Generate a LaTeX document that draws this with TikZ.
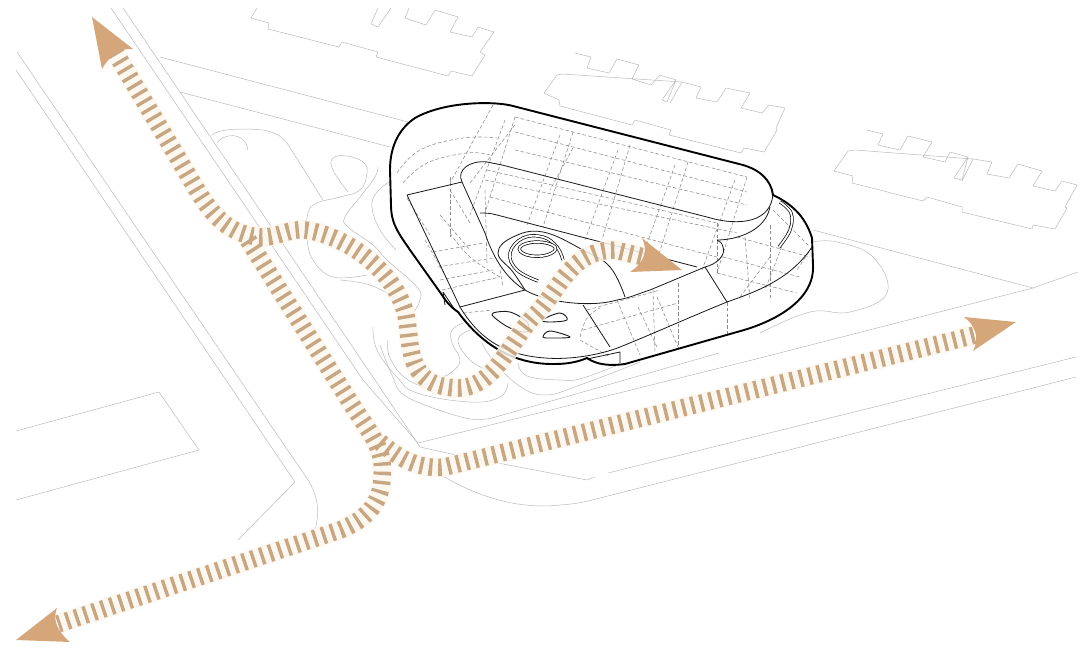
\documentclass[tikz,border=0pt]{standalone}
\usepackage{tikz}
\usetikzlibrary{arrows.meta,calc}
\definecolor{stripe}{HTML}{C6A683}
\definecolor{halo}{HTML}{FCF6EC}
\definecolor{tip}{HTML}{D5A679}

\begin{document}
\begin{tikzpicture}[
  x=1pt, y=-1pt,
  site/.style={draw=black!27, line width=.5pt, line join=round},
  wall/.style={draw=black!90, line width=.8pt, line join=round},
  roof/.style={draw=black, line width=1.9pt, line cap=round, line join=round},
  hidden/.style={draw=black!45, line width=.55pt, dash pattern=on 3.6pt off 2.2pt},
  ring/.style={draw=black, line width=.7pt, double=white, double distance=1.8pt},
  walkhalo/.style={draw=halo, line width=20pt, opacity=.85},
  walkbar/.style={draw=stripe, line width=17.5pt, dash pattern=on 3.4pt off 5.9pt},
  walktip/.style={fill=tip, draw=none}
]
\useasboundingbox (0,0) rectangle (1080,654);

% Roads and plot edges.
\draw[site] (17,52) -- (308,480) .. controls (318,496) and (320,512) .. (315,530);
\draw[site] (16,70) -- (295,482) -- (238,540);
\draw[site] (16,431) -- (159,392) -- (199,450) -- (16,500);
\draw[site] (111,8) -- (363,380) -- (418,443) -- (760,358) -- (1033,288) -- (1078,272);
\draw[site] (123,8) -- (375,380) -- (420,447) -- (456,455) -- (587,480) -- (595,477);
\draw[site] (608,473) -- (1076,357);
\draw[site] (425,463) .. controls (445,480) and (500,512) .. (560,505) .. controls (575,504) and (585,502) .. (596,499) -- (1076,377);
\draw[site] (160,57) -- (408,122);
\draw[site] (180,92) -- (390,147);
\draw[site] (813,230) -- (1033,288);

% Neighbouring blocks.
\draw[site] (257,8) -- (251,18) -- (269,23) -- (268,29) -- (339,47) -- (342,42) -- (378,52) -- (376,57) -- (448,76)
  -- (451,71) -- (472,76) -- (485,55) -- (480,52) -- (494,32) -- (478,27) -- (472,37) -- (450,32) -- (458,17)
  -- (435,10) -- (426,25) -- (405,18) -- (409,8);
\draw[site] (378,8) -- (371,24) -- (378,27) -- (391,8);
\draw[site] (575,53) -- (591,57) -- (587,68) -- (609,73) -- (617,59) -- (639,65) -- (632,79) -- (651,85) -- (660,75)
  -- (676,80) -- (667,102) -- (662,100) -- (676,80) (682,82) -- (701,87) -- (696,98) -- (717,102) -- (726,88)
  -- (750,93) -- (741,108) -- (762,113) -- (769,105) -- (785,108) -- (776,128) -- (777,130) -- (764,152) -- (744,148)
  -- (741,153) -- (669,135) -- (671,130) -- (635,120) -- (632,125) -- (560,106) -- (559,100) -- (544,93) -- (557,75)
  -- (562,74) -- cycle;
\draw[site] (682,82) -- (670,103);
\draw[site] (867,130) -- (883,134) -- (878,145) -- (900,150) -- (908,136) -- (932,142) -- (923,157) -- (945,162)
  -- (950,152) -- (968,157) -- (962,180) -- (954,178) -- (968,157) (973,159) -- (992,162) -- (987,174) -- (1009,178)
  -- (1018,164) -- (1042,171) -- (1033,186) -- (1055,191) -- (1062,181) -- (1077,185) -- (1065,207) -- (1067,208)
  -- (1055,229) -- (1033,225) -- (1032,229) -- (962,212) -- (962,207) -- (927,197) -- (923,201) -- (852,183)
  -- (853,176) -- (834,171) -- (848,151) -- (855,150) -- cycle;
\draw[site] (973,159) -- (962,181);

% Garden contours.
\draw[site] (212,135) .. controls (218,129) and (240,128) .. (263,130) .. controls (275,132) and (283,137) .. (287,143) -- (323,200);
\draw[site] (217,143) .. controls (222,134) and (245,130) .. (248,150);
\draw[site] plot[smooth, tension=.7] coordinates {(348,192) (333,170) (333,158) (347,156) (363,162) (367,173) (360,190) (340,197) (317,203) (308,213) (307,237) (313,260) (333,277) (367,275)};
\draw[site] plot[smooth, tension=.7] coordinates {(378,167) (375,177) (360,197) (345,217) (348,227) (373,245) (387,260) (417,287) (420,300) (413,313)};
\draw[site] plot[smooth, tension=.7] coordinates {(392,180) (377,192) (372,207) (380,230) (396,250)};
\draw[site] plot[smooth, tension=.7] coordinates {(340,280) (370,285) (395,298)};
\draw[site] plot[smooth, tension=.7] coordinates {(373,327) (377,350) (397,377) (417,393) (470,402) (500,397) (508,383)};
\draw[site] plot[smooth, tension=.7] coordinates {(388,340) (390,358) (408,380) (440,392)};
\draw[site] plot[smooth, tension=.7] coordinates {(463,323) (452,330) (452,343) (460,360) (452,372) (440,378)};
\draw[site] plot[smooth, tension=.7] coordinates {(470,330) (458,340) (470,360) (490,372) (495,378)};
\draw[site] plot[smooth, tension=.7] coordinates {(482,343) (493,360) (518,385) (545,395) (580,385) (640,362)};
\draw[site] plot[smooth, tension=.7] coordinates {(518,363) (527,376) (560,380) (583,378) (630,360)};
\draw[site] plot[smooth, tension=.6] coordinates {(492,418) (465,418) (407,397) (392,375) (380,345)};
\draw[site] (492,418) -- (719,353);
\draw[site] plot[smooth, tension=.7] coordinates {(760,333) (810,312) (850,312) (887,293) (873,257) (837,242) (813,242)};

% Building footprint, hidden floor plates first.
\fill[white] (773,195) .. controls (771,180) and (760,170) .. (743,165) -- (513,106) .. controls (495,101) and (445,101) .. (415,118)
  .. controls (400,128) and (390,145) .. (390,170) -- (391,205) .. controls (391,225) and (400,235) .. (410,250) -- (458,312)
  .. controls (475,335) and (505,365) .. (560,364) -- (625,364) -- (737,332) .. controls (775,322) and (815,300) .. (813,265)
  -- (812,238) .. controls (805,215) and (790,203) .. (773,195) -- cycle;

\foreach \xa/\ya/\xb/\yb in {515/117/747/177, 515/132/747/192, 515/150/747/205, 487/170/717/223, 485/180/737/233, 490/197/717/257,
    515/117/485/213, 573/132/543/227, 630/145/602/240, 688/162/658/257, 747/177/717/273, 493/105/450/183, 515/125/470/183, 573/148/550/190,
    505/120/470/215, 560/135/527/225, 618/150/585/240, 675/165/643/255, 735/180/702/270,
    717/223/717/273, 737/237/810/257, 723/257/800/277, 717/273/797/293, 740/297/770/257, 773/210/810/247, 812/247/797/270, 770/225/770/300,
    745/237/750/300, 790/225/765/290,
    587/310/660/290, 583/330/678/303, 638/307/657/347, 657/297/678/347, 678/283/678/347, 727/302/727/335, 653/290/655/353, 580/340/610/357,
    450/177/450/237, 433/252/483/243, 438/267/493/258, 440/280/493/270, 442/290/500/277, 485/190/487/263, 500/270/503/287, 450/190/470/223,
    407/198/430/235, 463/313/493/310, 617/300/640/355, 440/215/470/250, 425/240/445/275} {
  \draw[hidden] (\xa,\ya) -- (\xb,\yb);
}
\draw[hidden] plot[smooth, tension=.7] coordinates {(397,173) (420,150) (463,138) (497,138)};
\draw[hidden] plot[smooth, tension=.7] coordinates {(403,183) (427,163) (467,153) (490,155)};
\draw[hidden] plot[smooth, tension=.7] coordinates {(450,233) (470,257) (500,277)};
\draw[hidden] plot[smooth, tension=.7] coordinates {(580,337) (587,318) (600,308)};

% Terraces and plaza.
\draw[wall] (462,182) .. controls (456,170) and (470,160) .. (487,162) -- (502,165) -- (707,217) .. controls (740,227) and (772,222) .. (773,193);
\draw[wall] (407,195) -- (462,182) -- (485,233) .. controls (492,255) and (505,278) .. (525,290)
  .. controls (545,302) and (590,308) .. (617,300) .. controls (630,298) and (640,293) .. (650,290) -- (705,267)
  .. controls (718,264) and (726,254) .. (723,247) .. controls (722,243) and (720,241) .. (717,240);
\draw[wall] (480,213) .. controls (485,213) and (490,213) .. (497,215) -- (697,267);
\draw[wall] (407,195) -- (460,307) -- (525,290);
\draw[wall] (460,307) .. controls (480,340) and (505,355) .. (545,358) .. controls (570,360) and (600,355) .. (620,347)
  .. controls (650,335) and (690,317) .. (727,302) .. controls (755,292) and (790,280) .. (812,247);
\draw[wall] (583,305) -- (610,347);
\draw[wall] (705,267) -- (727,302);
\draw[wall] (717,240) .. controls (735,240) and (765,232) .. (770,207);
\draw[wall] (443,292) -- (455,310);
\draw[wall] (443,292) -- (445,305);
\draw[wall] (587,359) -- (620,352) -- (620,363);

% Rings of the spiral ramp.
\draw[wall] plot[smooth, tension=.7] coordinates {(525,290) (513,272) (498,253) (513,237) (543,232) (583,250) (610,267) (625,297)};
\draw[ring] plot[smooth, tension=.7] coordinates {(538,281) (517,270) (510,253) (523,238) (543,237) (557,247) (563,260)};
\draw[ring] plot[smooth cycle, tension=.8] coordinates {(520,247) (537,242) (555,247) (547,255) (527,255)};
\draw[ring] plot[smooth, tension=.7] coordinates {(779,247) (790,230) (791,213) (780,202)};

% Openings in the plaza.
\draw[wall, line width=.9pt] plot[smooth cycle, tension=.6] coordinates {(493,313) (510,312) (527,322) (527,332) (510,328) (495,318)};
\draw[wall, line width=.9pt] plot[smooth cycle, tension=.6] coordinates {(542,320) (560,313) (567,320) (550,322)};
\draw[wall, line width=.9pt] plot[smooth cycle, tension=.6] coordinates {(543,337) (550,331) (570,337) (552,338)};

% Outer edge of the roof.
\draw[roof] (773,195) .. controls (771,180) and (760,170) .. (743,165) -- (513,106) .. controls (495,101) and (445,101) .. (415,118)
  .. controls (400,128) and (390,145) .. (390,170) -- (391,205) .. controls (391,225) and (400,235) .. (410,250) -- (442,295)
  .. controls (447,303) and (452,308) .. (458,312) .. controls (475,335) and (505,365) .. (555,364) .. controls (570,364) and (580,361) .. (587,358);
\draw[roof] (587,358) .. controls (597,365) and (610,366) .. (625,364) -- (737,332) .. controls (775,322) and (815,300) .. (813,265)
  -- (812,238) .. controls (805,215) and (790,203) .. (773,195);

% Walks over everything.
\foreach \layer in {walkhalo, walkbar} {
  \draw[\layer] (115,52) -- (197,190) .. controls (212,215) and (230,236) .. (262,237) .. controls (280,237) and (290,228) .. (305,230)
    .. controls (345,235) and (395,270) .. (406,315) .. controls (412,345) and (405,385) .. (455,388)
    .. controls (495,390) and (510,340) .. (535,315) .. controls (560,290) and (570,250) .. (615,250) -- (648,258);
  \draw[\layer] (248,240) -- (262,262) -- (352,405) .. controls (375,440) and (385,450) .. (382,480)
    .. controls (380,505) and (365,520) .. (340,530) -- (58,624);
  \draw[\layer] (380,442) .. controls (395,455) and (415,470) .. (445,467) -- (975,335);
}

% Arrow heads.
\fill[walktip] (92,17) -- (133,49) .. controls (120,48) and (110,55) .. (102,69) -- cycle;
\fill[walktip] (682,270) -- (642,238) .. controls (648,250) and (645,262) .. (630,272) -- cycle;
\fill[walktip] (1016,322) -- (964,317) .. controls (975,325) and (980,338) .. (973,351) -- cycle;
\fill[walktip] (16,640) -- (57,608) .. controls (52,620) and (58,632) .. (70,642) -- cycle;
\end{tikzpicture}
\end{document}
